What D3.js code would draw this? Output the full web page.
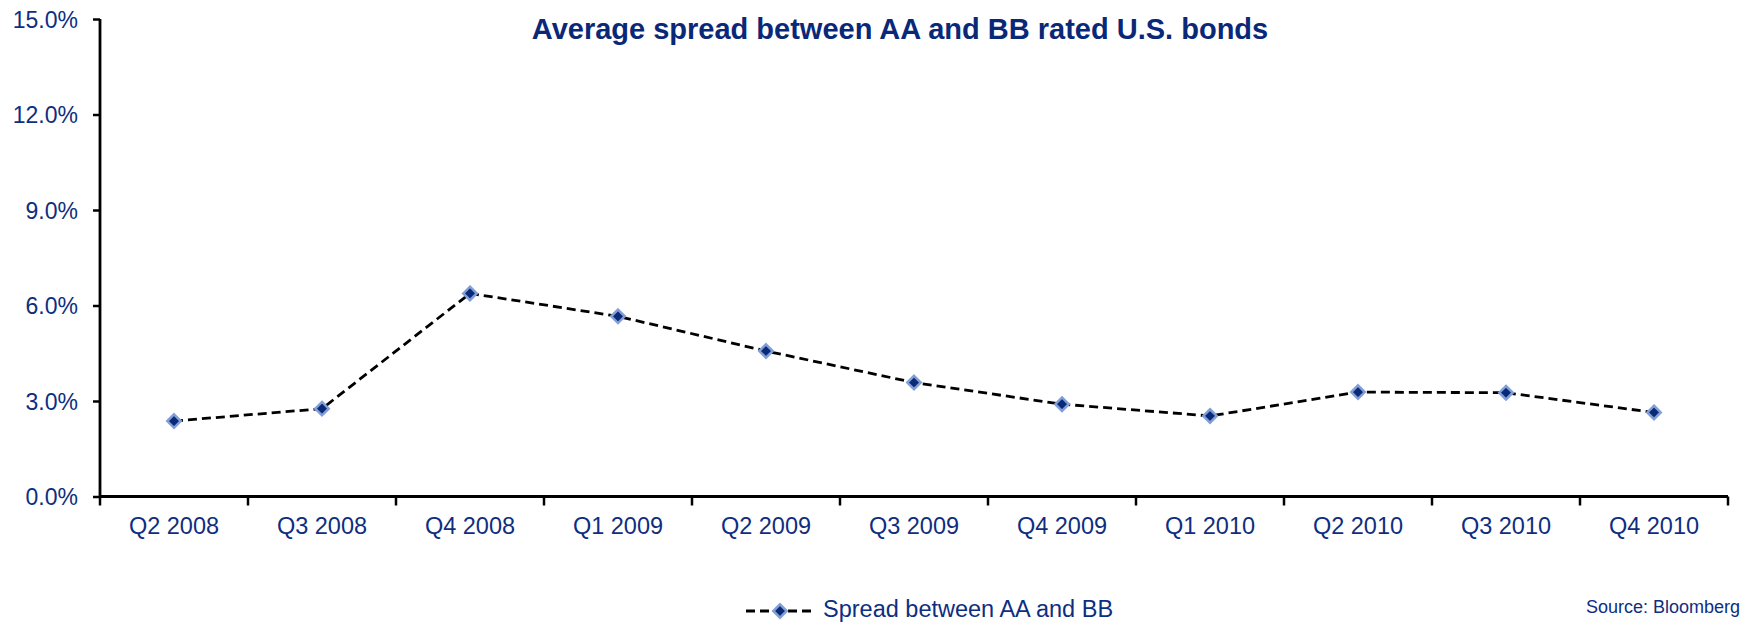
<!DOCTYPE html>
<html>
<head>
<meta charset="utf-8">
<script src="https://cdn.jsdelivr.net/npm/d3@7"></script>
<style>
  body { margin: 0; background: #fff; }
  text { font-family: "Liberation Sans", Arial, sans-serif; }
</style>
</head>
<body>
<svg id="chart" width="1752" height="623"></svg>
<script>
// quarters on the x axis
var quarters = ["Q2 2008", "Q3 2008", "Q4 2008", "Q1 2009", "Q2 2009", "Q3 2009",
  "Q4 2009", "Q1 2010", "Q2 2010", "Q3 2010", "Q4 2010"];
// spread between AA and BB, in percent
var spread = [2.37, 2.76, 6.38, 5.66, 4.57, 3.58, 2.90, 2.53, 3.28, 3.26, 2.64];
var yTicks = [0, 3, 6, 9, 12, 15];

var svg = d3.select("#chart"),
  width = +svg.attr("width"),
  height = +svg.attr("height");

var navy = "#0e2e7f";
var margin = { left: 100, right: 24, top: 19, bottom: 126 };

var x = d3.scaleBand()
  .domain(quarters)
  .range([margin.left, width - margin.right])
  .padding(0);

var y = d3.scaleLinear()
  .domain([0, 15])
  .range([height - margin.bottom - 0.5, margin.top]);

// y axis
var yAxis = svg.append("g")
  .attr("transform", "translate(" + margin.left + ",0)")
  .call(d3.axisLeft(y).tickValues(yTicks).tickSize(7).tickPadding(15)
    .tickFormat(function (d) { return d3.format(".1f")(d) + "%"; }));
yAxis.select(".domain").attr("stroke", "#000").attr("stroke-width", 2.8)
  .attr("d", "M0," + y(15) + "V" + y(0));
yAxis.selectAll(".tick line").attr("stroke", "#000").attr("stroke-width", 2.5);
yAxis.selectAll(".tick text").attr("fill", navy).style("font-size", "23px")
  .attr("dy", "0.36em");

// x axis, ticks on the band edges
var xAxisG = svg.append("g")
  .attr("transform", "translate(0," + y(0) + ")");
xAxisG.append("line")
  .attr("x1", margin.left).attr("x2", width - margin.right)
  .attr("stroke", "#000").attr("stroke-width", 2.8);
var edges = quarters.map(function (q) { return x(q); })
  .concat([x(quarters[quarters.length - 1]) + x.bandwidth()]);
xAxisG.selectAll(".edge").data(edges).join("line")
  .attr("class", "edge")
  .attr("x1", function (d) { return d; }).attr("x2", function (d) { return d; })
  .attr("y1", 0).attr("y2", 9)
  .attr("stroke", "#000").attr("stroke-width", 2.5);
xAxisG.selectAll(".lbl").data(quarters).join("text")
  .attr("class", "lbl")
  .attr("x", function (d) { return x(d) + x.bandwidth() / 2; })
  .attr("y", 37)
  .attr("text-anchor", "middle")
  .attr("fill", navy)
  .style("font-size", "23.5px")
  .text(function (d) { return d; });

// title
svg.append("text")
  .attr("x", 900).attr("y", 39)
  .attr("text-anchor", "middle")
  .attr("fill", "#0a2878")
  .style("font-size", "29px").style("font-weight", "bold")
  .text("Average spread between AA and BB rated U.S. bonds");

// line
var line = d3.line()
  .x(function (d, i) { return x(quarters[i]) + x.bandwidth() / 2; })
  .y(function (d) { return y(d); });

svg.append("path")
  .datum(spread)
  .attr("d", line)
  .attr("fill", "none")
  .attr("stroke", "#000")
  .attr("stroke-width", 2.8)
  .attr("stroke-dasharray", "9,5");

var diamond = d3.symbol().type(d3.symbolDiamond2).size(115);
svg.append("g").selectAll("path")
  .data(spread)
  .join("path")
  .attr("transform", function (d, i) {
    return "translate(" + (x(quarters[i]) + x.bandwidth() / 2) + "," + y(d) + ")";
  })
  .attr("d", diamond)
  .attr("fill", "#0a2a78")
  .attr("stroke", "#819fd6")
  .attr("stroke-width", 2.5);

// legend
var lg = svg.append("g").attr("transform", "translate(746,611)");
lg.append("line").attr("x1", 0).attr("x2", 69)
  .attr("stroke", "#000").attr("stroke-width", 2.8).attr("stroke-dasharray", "9,5");
lg.append("path").attr("transform", "translate(34,0)").attr("d", diamond)
  .attr("fill", "#0a2a78").attr("stroke", "#819fd6").attr("stroke-width", 2.5);
lg.append("text").attr("x", 77).attr("y", 6)
  .attr("fill", navy).style("font-size", "23.5px")
  .text("Spread between AA and BB");

// source
svg.append("text")
  .attr("x", 1740).attr("y", 613)
  .attr("text-anchor", "end")
  .attr("fill", navy).style("font-size", "18px")
  .text("Source: Bloomberg");
</script>
</body>
</html>
